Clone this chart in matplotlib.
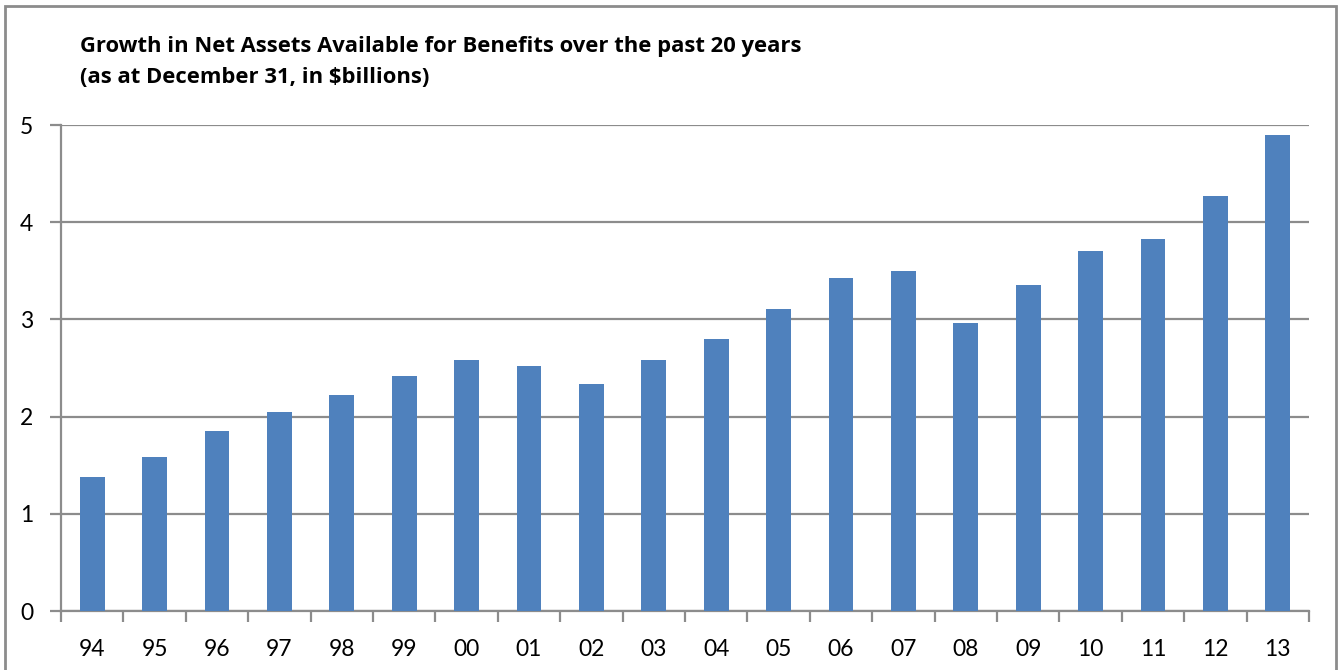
import numpy as np
import matplotlib.pyplot as plt
from matplotlib.patches import Rectangle

years = ['94', '95', '96', '97', '98', '99', '00', '01', '02', '03',
         '04', '05', '06', '07', '08', '09', '10', '11', '12', '13']
net_assets = [1.38, 1.58, 1.85, 2.05, 2.22, 2.42, 2.58, 2.52, 2.34, 2.58,
              2.80, 3.11, 3.43, 3.50, 2.96, 3.35, 3.70, 3.83, 4.27, 4.90]
y_ticks = [0, 1, 2, 3, 4, 5]

title = ('Growth in Net Assets Available for Benefits over the past 20 years\n'
         '(as at December 31, in $billions)')

plt.rcParams['font.family'] = ['Lato', 'DejaVu Sans']

fig = plt.figure(figsize=(13.38, 6.70), dpi=100)
ax = fig.add_axes([61 / 1338, 59 / 670, 1248 / 1338, 486 / 670])

# outer border of the chart
fig.patches.append(Rectangle((5 / 1338, -0.02), 1331 / 1338, 1.02 - 6 / 670,
                             transform=fig.transFigure, fill=False,
                             edgecolor='#8c8c8c', linewidth=2))

x = np.arange(len(years))
ax.bar(x, net_assets, width=0.4, color='#4f81bd', zorder=3)

ax.set_xlim(-0.5, len(years) - 0.5)
ax.set_ylim(0, 5)
ax.set_yticks(y_ticks)
ax.set_xticks(x)
ax.set_xticklabels(years)
ax.set_xticks(np.arange(-0.5, len(years)), minor=True)

ax.grid(axis='y', color='#8c8c8c', linewidth=1.6, zorder=0)
for side in ['top', 'right']:
    ax.spines[side].set_visible(False)
for side in ['left', 'bottom']:
    ax.spines[side].set_color('#8c8c8c')
    ax.spines[side].set_linewidth(1.6)

ax.tick_params(axis='x', which='major', length=0, labelsize=16.5, pad=20)
ax.tick_params(axis='x', which='minor', length=8, width=1.6, color='#8c8c8c')
ax.tick_params(axis='y', length=8, width=1.6, color='#8c8c8c',
               labelsize=16.5, pad=12)

fig.text(80 / 1338, 1 - 36 / 670, title, fontsize=15.8, fontweight='bold',
         family=['Open Sans', 'DejaVu Sans'],
         va='top', ha='left', linespacing=1.6)

fig.savefig('out.png', dpi=100)
